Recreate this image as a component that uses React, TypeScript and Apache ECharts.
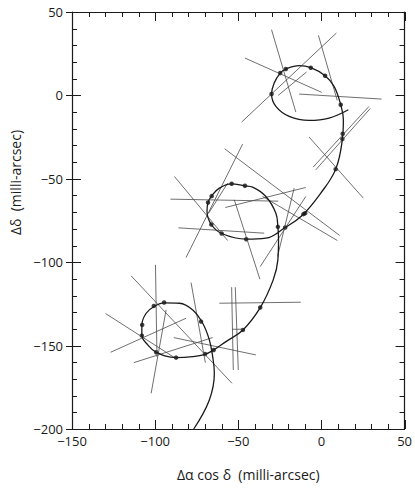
import React, { useEffect, useRef } from "react";
import * as echarts from "echarts";

// Path of the star (milli-arcsec)
const curveX = [-76.8, -67.4, -64.4, -65.4, -67.4, -71.4, -77.4, -85.4, -94.4, -100.4, -105.4, -108, -108, -104.4, -99.4, -87.6, -77.4, -70, -64.8, -57.4, -47.2, -36.8, -29, -26.2, -25.8, -26.2, -27.4, -33.4, -41.4, -46.2, -54.2, -61.4, -66, -68.2, -68.8, -66.2, -60, -45.2, -33.4, -21.8, -11.8, -0.4, 8.6, 12.6, 13.2, 11.6, 7.6, 2.2, -6.4, -13.4, -21.4, -24.8, -28.4, -30, -27.4, -19.4, -7.4, 4.6, 16.2];
const curveY = [-200, -182.6, -166.6, -156.6, -146.6, -136.6, -128.6, -124.6, -124.4, -126.4, -130.6, -137.8, -143.8, -149.6, -154, -157.2, -156.6, -155.2, -152.6, -147.6, -140.6, -127.2, -110.6, -98.6, -86.6, -78.8, -70.6, -60.6, -55, -54.2, -53, -55.6, -60.2, -64.2, -69.6, -77.4, -82.8, -86.2, -85.6, -79.2, -72.2, -58.6, -44.2, -26.2, -14.6, -5.6, 5.4, 11.8, 16.6, 17.8, 15.8, 13.4, 7.4, 0.8, -6.6, -12.6, -15, -13.6, -8.6];

// Observation epochs (dots)
const dotX = [-72.4, -94.6, -100.8, -107.8, -108, -99.4, -87.4, -70, -64.8, -47.2, -36.8, -26.2, -46, -54, -66, -68.2, -66.2, -60, -45.2, -21.8, -10.8, -9.8, 8.6, 12.6, 12.8, 11.6, 2.2, -6.4, -21.4, -24.8, -30];
const dotY = [-135.6, -124.2, -126.2, -137.6, -144, -154, -157.2, -155, -152.6, -140.6, -127.2, -78.8, -54.2, -53, -60.4, -64.2, -77.4, -82.8, -86.2, -79.2, -71.2, -70.6, -44.2, -26.2, -23, -5.6, 11.8, 16.6, 15.8, 13.4, 0.8];

// Scan-line segments (start / end)
const segX1 = [-30, -1.8, 9, -46, -9, -13.4, 28.6, 29.4, -7.4, -58.2, -47.4, -88.4, -90.8, -57.8, -86, -52.4, -35.4, -16.4, -9.4, -56.4, -99.8, -93.4, -114.4, -129.8, -126.8, -112.8, -88.8, -78.4, -61.4, -54, -51.8, -53.8];
const segY1 = [39.4, 36, 37.4, 22.4, 14, 0.8, -6.6, -7.8, -25, -32, -29.2, -48.6, -62.2, -67.2, -79.4, -62.6, -60.6, -55.6, -60.6, -52.6, -101.6, -128.6, -108.2, -130.8, -154, -160.2, -145.2, -112.2, -124.6, -115, -115, -140.2];
const segX2 = [-15.4, 9.5, -48, 0.2, -26, 36.2, -5, -3.4, 25.2, 11, -81.4, -56.4, -26, -9.4, -34.4, -37, 9.6, -26.4, -36.8, -67.8, -98.9, -102.4, -53.8, -87.4, -81.4, -65.4, -39.4, -69.8, -12.4, -53, -50, -46.4];
const segY2 = [-10, -3, -16, 1.8, 0, -2.2, -43, -44.6, -61.6, -84, -97.2, -87, -63.4, -55.2, -82.6, -110.2, -87, -96.6, -102.6, -70.6, -156.8, -178.6, -172.6, -157.8, -133.6, -145.2, -155.6, -160.2, -124, -164.6, -164.6, -140.2];

// Axis ticks
const xMajorTicks = [-150, -100, -50, 0, 50];
const xMinorTicks = [-140, -130, -120, -110, -90, -80, -70, -60, -40, -30, -20, -10, 10, 20, 30, 40];
const yMajorTicks = [-200, -150, -100, -50, 0, 50];
const yMinorTicks = [-190, -180, -170, -160, -140, -130, -120, -110, -90, -80, -70, -60, -40, -30, -20, -10, 10, 20, 30, 40];

const xTicks = { min: -150, max: 50, interval: 50 };
const yTicks = { min: -200, max: 50, interval: 50 };

const FONT = "'Open Sans', 'Noto Sans', sans-serif";
const INK = "#1a1a1a";
const fmt = (v: number) => String(v).replace("-", "\u2212");

export default function App() {
  const ref = useRef<HTMLDivElement>(null);
  useEffect(() => {
    if (!ref.current) return;
    const chart = echarts.init(ref.current, null, { renderer: "svg" });
    const curve = curveX.map((x, i) => [x, curveY[i]]);
    const dots = dotX.map((x, i) => [x, dotY[i]]);
    const segData: any[] = [];
    segX1.forEach((x, i) => {
      segData.push([x, segY1[i]], [segX2[i], segY2[i]], ["-", "-"]);
    });
    // tick items: [x, y, kind]  kind 0 = x major, 1 = x minor, 2 = y major, 3 = y minor
    const tickData: number[][] = [
      ...xMajorTicks.map((v) => [v, yTicks.min, 0]),
      ...xMinorTicks.map((v) => [v, yTicks.min, 1]),
      ...yMajorTicks.map((v) => [xTicks.min, v, 2]),
      ...yMinorTicks.map((v) => [xTicks.min, v, 3]),
    ];
    const tickStyle = { stroke: INK, lineWidth: 1 };
    const renderTick = (params: any, api: any) => {
      const cs = params.coordSys;
      const kind = api.value(2);
      const p = api.coord([api.value(0), api.value(1)]);
      const len = kind === 0 || kind === 2 ? 9 : 5;
      const children: any[] = [];
      if (kind < 2) {
        const x = Math.round(p[0]) + 0.5;
        const bottom = cs.y + cs.height;
        const top = cs.y;
        children.push({ type: "line", shape: { x1: x, y1: bottom, x2: x, y2: bottom - len }, style: tickStyle });
        children.push({ type: "line", shape: { x1: x, y1: top, x2: x, y2: top + len }, style: tickStyle });
      } else {
        const y = Math.round(p[1]) + 0.5;
        const left = cs.x;
        const right = cs.x + cs.width;
        const outer = kind === 2 ? 6 : 0;
        children.push({ type: "line", shape: { x1: left - outer, y1: y, x2: left + len, y2: y }, style: tickStyle });
        children.push({ type: "line", shape: { x1: right, y1: y, x2: right - len, y2: y }, style: tickStyle });
      }
      return { type: "group", children };
    };
    const frameLine = { show: true, onZero: false, lineStyle: { color: INK, width: 1.2 } };
    chart.setOption({
      animation: false,
      grid: { left: 72, top: 12, width: 333, height: 417 },
      xAxis: [
        {
          type: "value", ...xTicks, position: "bottom",
          splitLine: { show: false },
          axisLine: frameLine,
          axisTick: { show: false },
          axisLabel: { formatter: fmt, fontSize: 13, color: INK, fontFamily: FONT, margin: 5 },
          name: "\u0394\u03b1 cos \u03b4  (milli-arcsec)",
          nameLocation: "middle",
          nameGap: 38,
          nameTextStyle: { fontSize: 14, color: INK, fontFamily: FONT, padding: [0, 0, 0, 20] },
        },
        {
          type: "value", ...xTicks, position: "top",
          splitLine: { show: false },
          axisLine: frameLine,
          axisTick: { show: false },
          axisLabel: { show: false },
        },
      ],
      yAxis: [
        {
          type: "value", ...yTicks, position: "left",
          splitLine: { show: false },
          axisLine: frameLine,
          axisTick: { show: false },
          axisLabel: { formatter: fmt, fontSize: 13, color: INK, fontFamily: FONT, margin: 9 },
          name: "\u0394\u03b4  (milli-arcsec)",
          nameLocation: "middle",
          nameGap: 50,
          nameTextStyle: { fontSize: 14, color: INK, fontFamily: FONT, padding: [0, 0, 0, 76] },
        },
        {
          type: "value", ...yTicks, position: "right",
          splitLine: { show: false },
          axisLine: frameLine,
          axisTick: { show: false },
          axisLabel: { show: false },
        },
      ],
      series: [
        {
          type: "line", xAxisIndex: 0, yAxisIndex: 0,
          data: segData, showSymbol: false, symbol: "none", connectNulls: false, silent: true,
          lineStyle: { color: "#4a4a4a", width: 0.8 },
        },
        {
          type: "line", xAxisIndex: 0, yAxisIndex: 0,
          data: curve, smooth: 0.4, showSymbol: false, symbol: "none", silent: true,
          lineStyle: { color: INK, width: 1.3 },
        },
        {
          type: "scatter", xAxisIndex: 0, yAxisIndex: 0,
          data: dots, symbol: "circle", symbolSize: 4.5, silent: true,
          itemStyle: { color: "#111" },
        },
        {
          type: "custom", xAxisIndex: 0, yAxisIndex: 0,
          data: tickData, encode: { x: 0, y: 1 }, clip: false, silent: true,
          renderItem: renderTick, z: 5,
        },
      ],
    });
    return () => chart.dispose();
  }, []);
  return (
    <div ref={ref} style={{ position: "absolute", left: 0, top: 0, width: 415, height: 488, background: "#fff" }} />
  );
}
